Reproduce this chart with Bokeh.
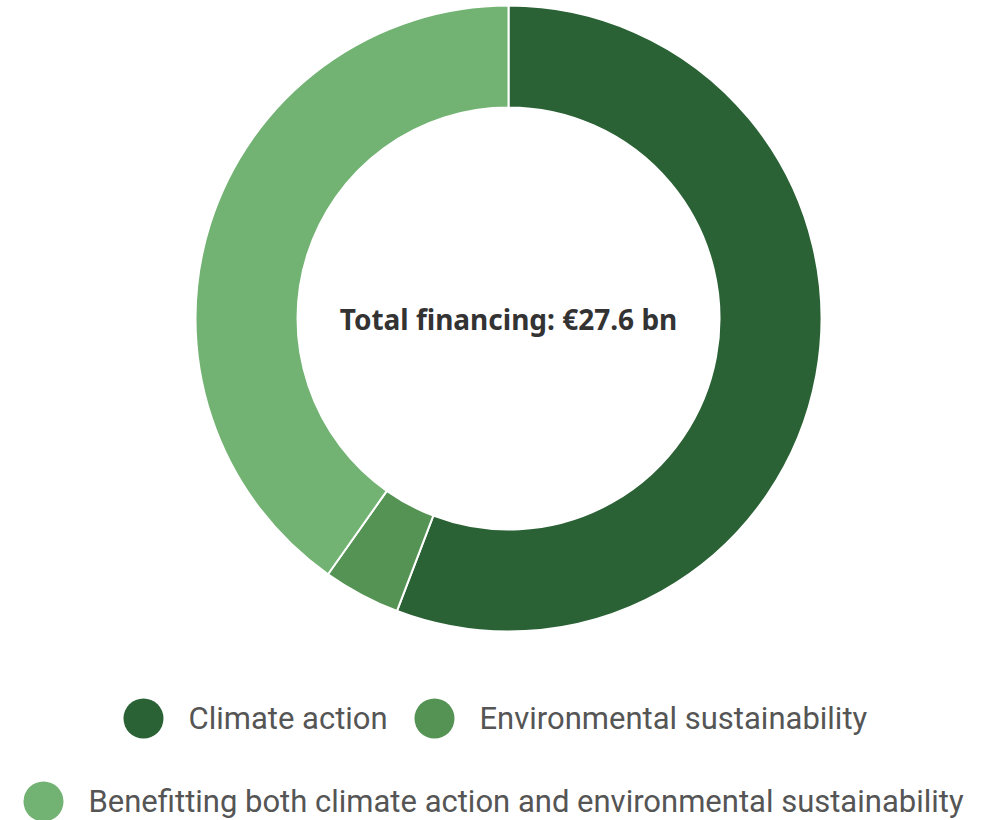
import math
from bokeh.plotting import figure
from bokeh.models import Range1d, ColumnDataSource
from bokeh.core.properties import value
from bokeh.embed import file_html
from bokeh.resources import INLINE

# ---- data ----
categories = [
    "Climate action",
    "Environmental sustainability",
    "Benefitting both climate action and environmental sustainability",
]
values = [15.4, 1.1, 11.1]          # EUR bn
colors = ["#2a6235", "#559354", "#72b373"]
total_label = "Total financing: €27.6 bn"

# ---- layout ----
W, H = 999, 820
CX, CY = 508, H - 318
R_IN, R_OUT = 211, 313
legend_marker_x = [143, 434, 43]
legend_row_y = [H - 718, H - 718, H - 801]
legend_text_gap = 45

total = sum(values)
starts, ends = [], []
cum = 0.0
for v in values:
    starts.append(math.pi / 2 - 2 * math.pi * cum / total)
    cum += v
    ends.append(math.pi / 2 - 2 * math.pi * cum / total)

src = ColumnDataSource(dict(cat=categories, val=values, color=colors,
                            start=starts, end=ends))

p = figure(width=W, height=H, x_range=Range1d(0, W), y_range=Range1d(0, H),
           output_backend="svg", toolbar_location=None, min_border=0)
p.axis.visible = False
p.grid.visible = False
p.outline_line_color = None
p.background_fill_color = "white"

p.annular_wedge(x=CX, y=CY, inner_radius=R_IN, outer_radius=R_OUT,
                start_angle="start", end_angle="end", direction="clock",
                fill_color="color", line_color="white", line_width=2,
                source=src)

p.text(x=[CX], y=[CY], text=[total_label], text_align="center",
       text_baseline="middle", text_font=value("Noto Sans"),
       text_font_style="bold", text_font_size="28px", text_color="#333333")

leg = ColumnDataSource(dict(x=legend_marker_x, y=legend_row_y,
                            tx=[x + legend_text_gap for x in legend_marker_x],
                            cat=categories, color=colors))
p.scatter(x="x", y="y", size=40, marker="circle", fill_color="color",
          line_color=None, source=leg)
p.text(x="tx", y="y", text="cat", text_align="left", text_baseline="middle",
       text_font=value("Roboto"), text_font_size="31px", text_color="#555555",
       source=leg)

open("out.html", "w").write(file_html(p, INLINE))
